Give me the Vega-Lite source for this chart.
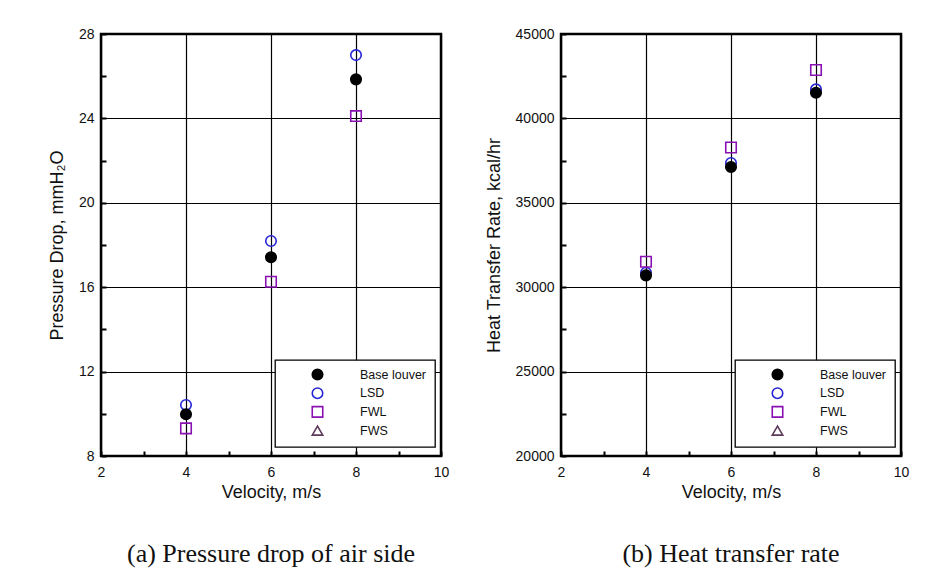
{
  "$schema": "https://vega.github.io/schema/vega-lite/v6.json",
  "background": "white",
  "padding": {"left": 47, "top": 25, "right": 5, "bottom": 5},
  "spacing": 32,
  "datasets": {
    "pressure": [
      {"velocity": 4, "series": "LSD", "value": 10.42},
      {"velocity": 6, "series": "LSD", "value": 18.19},
      {"velocity": 8, "series": "LSD", "value": 27.0},
      {"velocity": 4, "series": "FWL", "value": 9.31},
      {"velocity": 6, "series": "FWL", "value": 16.26},
      {"velocity": 8, "series": "FWL", "value": 24.11},
      {"velocity": 4, "series": "Base louver", "value": 9.98},
      {"velocity": 6, "series": "Base louver", "value": 17.42},
      {"velocity": 8, "series": "Base louver", "value": 25.85}
    ],
    "heat": [
      {"velocity": 4, "series": "LSD", "value": 30860},
      {"velocity": 6, "series": "LSD", "value": 37360},
      {"velocity": 8, "series": "LSD", "value": 41720},
      {"velocity": 4, "series": "FWL", "value": 31510},
      {"velocity": 6, "series": "FWL", "value": 38280},
      {"velocity": 8, "series": "FWL", "value": 42870},
      {"velocity": 4, "series": "Base louver", "value": 30700},
      {"velocity": 6, "series": "Base louver", "value": 37120},
      {"velocity": 8, "series": "Base louver", "value": 41520}
    ]
  },
  "hconcat": [
    {
      "width": 340,
      "height": 422,
      "data": {"name": "pressure"},
      "title": {"text": "(a) Pressure drop of air side", "orient": "bottom", "offset": 40},
      "mark": {"type": "point", "size": 110, "strokeWidth": 1.6, "opacity": 1},
      "encoding": {
        "x": {
          "field": "velocity", "type": "quantitative",
          "scale": {"domain": [2, 10], "nice": false, "zero": false},
          "axis": {
            "title": "Velocity, m/s",
            "values": [2, 3, 4, 5, 6, 7, 8, 9, 10],
            "labelExpr": "datum.value % 2 === 0 ? datum.label : ''",
            "gridOpacity": {"condition": {"test": "datum.value % 2 === 0", "value": 1}, "value": 0},
            "labelPadding": 14,
            "titlePadding": 4
          }
        },
        "y": {
          "field": "value", "type": "quantitative",
          "scale": {"domain": [8, 28], "nice": false, "zero": false},
          "axis": {
            "title": "Pressure Drop, mmH₂O",
            "values": [8, 10, 12, 14, 16, 18, 20, 22, 24, 26, 28],
            "labelExpr": "datum.value % 4 === 0 ? datum.label : ''",
            "gridOpacity": {"condition": {"test": "datum.value % 4 === 0", "value": 1}, "value": 0}
          }
        },
        "shape": {"field": "series", "type": "nominal", "title": null,
          "scale": {"domain": ["Base louver", "LSD", "FWL", "FWS"], "range": ["circle", "circle", "square", "triangle-up"]}},
        "stroke": {"field": "series", "type": "nominal", "title": null,
          "scale": {"domain": ["Base louver", "LSD", "FWL", "FWS"], "range": ["#000000", "#2626d6", "#8a12b2", "#5c3a5a"]}},
        "fill": {"field": "series", "type": "nominal", "title": null,
          "scale": {"domain": ["Base louver", "LSD", "FWL", "FWS"], "range": ["#000000", "transparent", "transparent", "transparent"]}}
      }
    },
    {
      "width": 340,
      "height": 422,
      "data": {"name": "heat"},
      "title": {"text": "(b) Heat transfer rate", "orient": "bottom", "offset": 40},
      "mark": {"type": "point", "size": 110, "strokeWidth": 1.6, "opacity": 1},
      "encoding": {
        "x": {
          "field": "velocity", "type": "quantitative",
          "scale": {"domain": [2, 10], "nice": false, "zero": false},
          "axis": {
            "title": "Velocity, m/s",
            "values": [2, 3, 4, 5, 6, 7, 8, 9, 10],
            "labelExpr": "datum.value % 2 === 0 ? datum.label : ''",
            "gridOpacity": {"condition": {"test": "datum.value % 2 === 0", "value": 1}, "value": 0},
            "labelPadding": 14,
            "titlePadding": 4
          }
        },
        "y": {
          "field": "value", "type": "quantitative",
          "scale": {"domain": [20000, 45000], "nice": false, "zero": false},
          "axis": {
            "title": "Heat Transfer Rate, kcal/hr",
            "format": "d",
            "values": [20000, 22500, 25000, 27500, 30000, 32500, 35000, 37500, 40000, 42500, 45000],
            "labelExpr": "datum.value % 5000 === 0 ? datum.label : ''",
            "gridOpacity": {"condition": {"test": "datum.value % 5000 === 0", "value": 1}, "value": 0}
          }
        },
        "shape": {"field": "series", "type": "nominal", "title": null,
          "scale": {"domain": ["Base louver", "LSD", "FWL", "FWS"], "range": ["circle", "circle", "square", "triangle-up"]}},
        "stroke": {"field": "series", "type": "nominal", "title": null,
          "scale": {"domain": ["Base louver", "LSD", "FWL", "FWS"], "range": ["#000000", "#2626d6", "#8a12b2", "#5c3a5a"]}},
        "fill": {"field": "series", "type": "nominal", "title": null,
          "scale": {"domain": ["Base louver", "LSD", "FWL", "FWS"], "range": ["#000000", "transparent", "transparent", "transparent"]}}
      }
    }
  ],
  "resolve": {
    "scale": {"shape": "independent", "stroke": "independent", "fill": "independent"},
    "legend": {"shape": "independent", "stroke": "independent", "fill": "independent"}
  },
  "config": {
    "view": {"stroke": "#000000", "strokeWidth": 2.5},
    "axis": {
      "domain": false,
      "grid": true,
      "gridColor": "#000000",
      "gridWidth": 1.2,
      "tickColor": "#000000",
      "tickWidth": 2,
      "tickSize": -5,
      "labelPadding": 12,
      "labelFont": "Liberation Sans",
      "labelFontSize": 14,
      "labelColor": "#111111",
      "labelFlush": false,
      "labelOverlap": false,
      "titleFont": "Liberation Sans",
      "titleFontSize": 18,
      "titleFontWeight": "normal",
      "titleColor": "#111111",
      "titlePadding": 12
    },
    "legend": {
      "orient": "none",
      "legendX": 174,
      "legendY": 326,
      "strokeColor": "#000000",
      "strokeWidth": 1.3,
      "fillColor": "white",
      "padding": 8,
      "symbolOffset": 28,
      "labelOffset": 36,
      "rowPadding": 1.7,
      "labelFont": "Liberation Sans",
      "labelFontSize": 12.5,
      "labelColor": "#111111",
      "symbolSize": 110,
      "symbolStrokeWidth": 1.6
    },
    "title": {
      "font": "Liberation Serif",
      "fontSize": 26,
      "fontWeight": "normal",
      "color": "#111111",
      "anchor": "middle"
    }
  }
}
